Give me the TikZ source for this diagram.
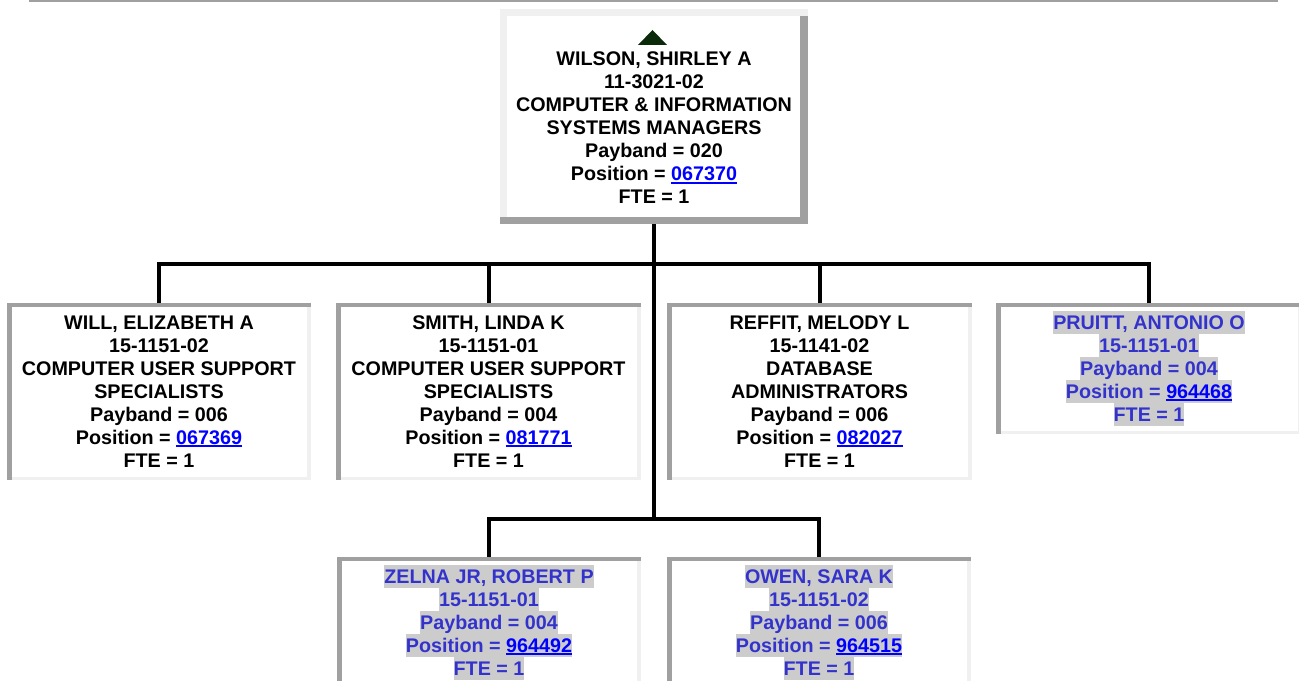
\documentclass[tikz,border=0pt]{standalone}
\usepackage{fontspec}
\setmainfont{Liberation Sans}
\usetikzlibrary{calc}
\definecolor{bdark}{HTML}{A0A0A0}
\definecolor{blight}{HTML}{F0F0F0}
\definecolor{hlgray}{HTML}{CCCCCC}
\definecolor{vactext}{HTML}{3333CC}
\definecolor{linkblue}{HTML}{0000FF}
\definecolor{tricol}{HTML}{0A2A0A}
\newcommand\mystrut{\rule[-3.45pt]{0pt}{17.25pt}}
\newcommand\nl[1]{\mystrut#1}
\newcommand\hlln[1]{{\setlength{\fboxsep}{0pt}\colorbox{hlgray}{\mystrut#1}}}
\newcommand\poslink[1]{\textcolor{linkblue}{\setbox0\hbox{#1}\rlap{\rule[-2.2pt]{\wd0}{1.1pt}}\box0}}
\newcommand\insetborder[1]{%
  \fill[bdark] (#1.north west) rectangle ($(#1.north east)+(0,4)$);
  \fill[bdark] (#1.north west) rectangle ($(#1.south west)+(5,0)$);
  \fill[blight] ($(#1.north east)+(-4,4)$) rectangle (#1.south east);
  \fill[blight] ($(#1.south west)+(5,-3.5)$) rectangle (#1.south east);
}
\newcommand\outsetborder[1]{%
  \fill[blight] (#1.north west) rectangle ($(#1.north east)+(0,7.5)$);
  \fill[blight] (#1.north west) rectangle ($(#1.south west)+(7,0)$);
  \fill[bdark] ($(#1.north east)+(-8,7.5)$) rectangle (#1.south east);
  \fill[bdark] ($(#1.south west)+(0,-7)$) rectangle (#1.south east);
}
\tikzset{
  boxn/.style={rectangle, inner sep=0pt, outer sep=0pt, fill=white, draw=none},
  txt/.style={inner sep=0pt, outer sep=0pt, align=center, anchor=north,
    font=\fontsize{14.8}{17.25}\selectfont\bfseries},
  vac/.style={txt, text=vactext},
  conn/.style={line width=3pt, black}
}
\begin{document}
\begin{tikzpicture}[x=0.75pt, y=-0.75pt]
\useasboundingbox (0,0) rectangle (1299,681);
\clip (0,0) rectangle (1299,681);
\fill[white] (0,0) rectangle (1299,681);
% top rule
\fill[bdark] (29,0) rectangle (1278,2.5);

% boxes
\node[boxn, minimum width=231pt, minimum height=161.25pt] (top) at (654,116.5) {};
\node[boxn, minimum width=228pt, minimum height=132.75pt] (b1) at (159,391.5) {};
\node[boxn, minimum width=228.75pt, minimum height=132.75pt] (b2) at (488.5,391.5) {};
\node[boxn, minimum width=228.75pt, minimum height=132.75pt] (b3) at (819.5,391.5) {};
\node[boxn, minimum width=229.5pt, minimum height=98.25pt] (b4) at (1149,368.5) {};
\node[boxn, minimum width=228pt, minimum height=98.25pt] (b5) at (489,622.5) {};
\node[boxn, minimum width=228pt, minimum height=98.25pt] (b6) at (819,622.5) {};

% connectors
\coordinate (busA) at (654,264);
\coordinate (busB) at (654,519);
\draw[conn] (top.south) -- (busB);
\draw[conn] (b1.north) |- (b4.north |- busA) -- (b4.north);
\draw[conn] (b2.north) -- (b2.north |- busA);
\draw[conn] (b3.north) -- (b3.north |- busA);
\draw[conn] (b5.north) |- (b6.north |- busB) -- (b6.north);

% borders
\outsetborder{top}
\insetborder{b1}
\insetborder{b2}
\insetborder{b3}
\insetborder{b4}
\insetborder{b5}
\insetborder{b6}

% triangle
\fill[tricol] (638,45) -- (652.5,30) -- (667,45) -- cycle;

% texts
\node[txt] (t0) at (654,47.6) {\nl{WILSON, SHIRLEY A}\\ \nl{11-3021-02}\\ \nl{COMPUTER \& INFORMATION}\\ \nl{SYSTEMS MANAGERS}\\ \nl{Payband = 020}\\ \nl{Position = \poslink{067370}}\\ \nl{FTE = 1}};
\node[txt] (t1) at (159,310.6) {\nl{WILL, ELIZABETH A}\\ \nl{15-1151-02}\\ \nl{COMPUTER USER SUPPORT}\\ \nl{SPECIALISTS}\\ \nl{Payband = 006}\\ \nl{Position = \poslink{067369}}\\ \nl{FTE = 1}};
\node[txt] (t2) at (488.5,310.6) {\nl{SMITH, LINDA K}\\ \nl{15-1151-01}\\ \nl{COMPUTER USER SUPPORT}\\ \nl{SPECIALISTS}\\ \nl{Payband = 004}\\ \nl{Position = \poslink{081771}}\\ \nl{FTE = 1}};
\node[txt] (t3) at (819.5,310.6) {\nl{REFFIT, MELODY L}\\ \nl{15-1141-02}\\ \nl{DATABASE}\\ \nl{ADMINISTRATORS}\\ \nl{Payband = 006}\\ \nl{Position = \poslink{082027}}\\ \nl{FTE = 1}};
\node[vac] (t4) at (1149,310.6) {\hlln{PRUITT, ANTONIO O}\\ \hlln{15-1151-01}\\ \hlln{Payband = 004}\\ \hlln{Position = \poslink{964468}}\\ \hlln{FTE = 1}};
\node[vac] (t5) at (489,564.6) {\hlln{ZELNA JR, ROBERT P}\\ \hlln{15-1151-01}\\ \hlln{Payband = 004}\\ \hlln{Position = \poslink{964492}}\\ \hlln{FTE = 1}};
\node[vac] (t6) at (819,564.6) {\hlln{OWEN, SARA K}\\ \hlln{15-1151-02}\\ \hlln{Payband = 006}\\ \hlln{Position = \poslink{964515}}\\ \hlln{FTE = 1}};
\end{tikzpicture}
\end{document}
